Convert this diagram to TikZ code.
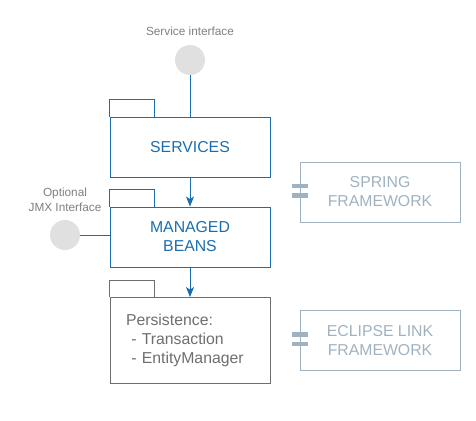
\documentclass[tikz,border=0pt]{standalone}
\usepackage{fontspec}
\setmainfont{Liberation Sans}
\usetikzlibrary{arrows.meta}
\definecolor{cblue}{HTML}{1A6DAF}
\definecolor{cgray}{HTML}{6E6E6E}
\definecolor{cfw}{HTML}{A0B2BF}
\definecolor{ccirc}{HTML}{E0E0E0}
\definecolor{clabel}{HTML}{7F7F7F}
\tikzset{
  pkg/.style={draw=cblue, line width=0.9pt, minimum width=160pt, minimum height=60pt, inner sep=0pt, text=cblue, font=\fontsize{15.8}{19}\selectfont, align=center},
  ppkg/.style={draw=cgray, line width=0.9pt, minimum width=160pt, minimum height=86pt, inner sep=0pt, text=cgray, font=\fontsize{15.8}{19}\selectfont, align=left},
  fw/.style={draw=cfw, line width=0.9pt, minimum width=160pt, minimum height=60pt, inner sep=0pt, text=cfw, font=\fontsize{15.8}{19}\selectfont, align=center},
  port/.style={draw=none, fill=cfw, minimum width=16pt, minimum height=4.5pt, inner sep=0pt},
  iface/.style={circle, fill=ccirc, draw=none, minimum size=30pt, inner sep=0pt},
  lbl/.style={text=clabel, font=\fontsize{11.8}{15}\selectfont, align=center, inner sep=0pt},
  conn/.style={draw=cblue, line width=0.9pt},
  arr/.style={conn, -{Stealth[length=10pt, width=8pt, inset=2.5pt]}},
}
\begin{document}
\begin{tikzpicture}[x=1pt, y=-1pt]
\useasboundingbox (0,0) rectangle (476,420);
% services
\node[pkg] (svc) at (190,147) {SERVICES};
\draw[draw=cblue, line width=0.9pt] (svc.north west) -- ++(0,-17) -| ([xshift=45pt]svc.north west);
\node[iface] (si) at (190,60) {};
\node[lbl] (silbl) at (190,31) {Service interface};
\draw[conn] (si.south) -- (svc.north);
% managed beans
\node[pkg] (mb) at (190,237) {MANAGED\\BEANS};
\draw[draw=cblue, line width=0.9pt] (mb.north west) -- ++(0,-17) -| ([xshift=45pt]mb.north west);
\draw[arr] (svc.south) -- (mb.north);
\node[iface] (jmx) at (65,235) {};
\node[lbl] (jmxlbl) at (65,199.5) {Optional\\JMX Interface};
\draw[conn] (jmx.east) -- (jmx.east -| mb.west);
% persistence
\node[ppkg, text width=128pt] (per) at (190,340.5) {Persistence:\\\ - Transaction\\\ - EntityManager};
\draw[draw=cgray, line width=0.9pt] (per.north west) -- ++(0,-17) -| ([xshift=45pt]per.north west);
\draw[arr] (mb.south) -- (per.north);
% frameworks
\node[fw] (spring) at (380,192) {SPRING\\FRAMEWORK};
\node[port] (sp1) at (300,186) {};
\node[port] (sp2) at (300,195.5) {};
\node[fw] (ecl) at (380,340.5) {ECLIPSE LINK\\FRAMEWORK};
\node[port] (ep1) at (300,334.5) {};
\node[port] (ep2) at (300,344) {};
\end{tikzpicture}
\end{document}
